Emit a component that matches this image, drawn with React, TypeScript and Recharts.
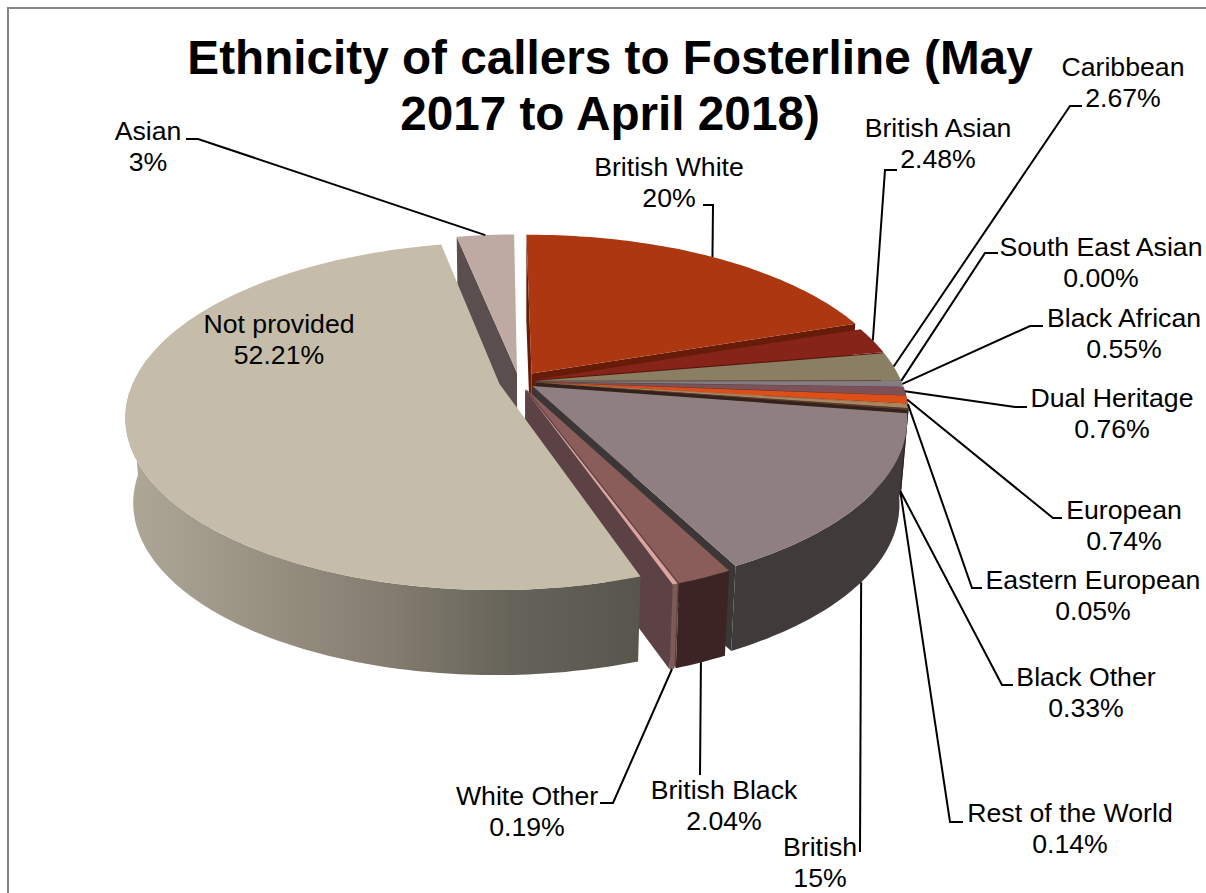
import { Pie, PieChart } from "recharts";

const names = [
  "Asian", "British White", "British Asian", "Caribbean", "South East Asian", "Black African",
  "Dual Heritage", "European", "Eastern European", "Black Other", "Rest of the World",
  "British", "British Black", "White Other", "Not provided",
];
const values = [3, 20, 2.48, 2.67, 0, 0.55, 0.76, 0.74, 0.05, 0.33, 0.14, 15, 2.04, 0.19, 52.21];
const slices = names.map((name, i) => ({ name, value: values[i] }));

const FONT = '"Liberation Sans", Arial, sans-serif';
const CX = 519;
const CY = 381.5;
const RX = 366; // plane radius in px, Pie outerRadius
const RY = 167;
const PERSPECTIVE = 0.185;
const DEPTH = 85;
const TWIST = 0.6; // pie rotation in degrees

// top colour, outer wall, cut wall, explosion as a fraction of the radius
const looks: Record<string, { top: string; wall: string; cut: string; explode: number }> = {
  "Asian": { top: "#bfaaa3", wall: "#6f625e", cut: "#5a4e4e", explode: 0.052 },
  "British White": { top: "#ad3710", wall: "#6a2108", cut: "#661c08", explode: 0.06 },
  "British Asian": { top: "#87241a", wall: "#4e150e", cut: "#5a160e", explode: 0.045 },
  "Caribbean": { top: "#8a7f62", wall: "#50492f", cut: "#4e4632", explode: 0.045 },
  "South East Asian": { top: "#6b6a6a", wall: "#3e3e3e", cut: "#3e3e3e", explode: 0.045 },
  "Black African": { top: "#857b85", wall: "#4b454b", cut: "#4b454b", explode: 0.045 },
  "Dual Heritage": { top: "#7e5058", wall: "#482e32", cut: "#482e32", explode: 0.045 },
  "European": { top: "#de4e17", wall: "#7e2c0d", cut: "#7e2c0d", explode: 0.045 },
  "Eastern European": { top: "#c8a080", wall: "#6e5846", cut: "#6e5846", explode: 0.045 },
  "Black Other": { top: "#a98560", wall: "#5f4a36", cut: "#5f4a36", explode: 0.045 },
  "Rest of the World": { top: "#5b3a30", wall: "#35221c", cut: "#35221c", explode: 0.045 },
  "British": { top: "#8f7f80", wall: "#403a3a", cut: "#3d3636", explode: 0.045 },
  "British Black": { top: "#8a5c5a", wall: "#3c2424", cut: "#5d4245", explode: 0.05 },
  "White Other": { top: "#dca5a0", wall: "#7c5a58", cut: "#5d4245", explode: 0.05 },
  "Not provided": { top: "#c5bcaa", wall: "url(#notProvidedWall)", cut: "#5c5a4e", explode: 0.055 },
};

// label centre, elbow, tail end and how far down the wall the leader lands
const callouts: Record<string, { x: number; y: number; elbow?: [number, number]; tail?: number; z?: number }> = {
  "Asian": { x: 148, y: 131, elbow: [198, 139], tail: 186 },
  "British White": { x: 669, y: 167, elbow: [713, 205], tail: 703 },
  "British Asian": { x: 938, y: 128, elbow: [885, 170], tail: 897 },
  "Caribbean": { x: 1123, y: 67, elbow: [1070, 106], tail: 1082 },
  "South East Asian": { x: 1101, y: 247, elbow: [985, 253], tail: 998 },
  "Black African": { x: 1124, y: 318, elbow: [1030, 326], tail: 1043 },
  "Dual Heritage": { x: 1112, y: 398, elbow: [1015, 407], tail: 1027 },
  "European": { x: 1124, y: 510, elbow: [1053, 518], tail: 1062 },
  "Eastern European": { x: 1093, y: 580, elbow: [972, 588], tail: 982 },
  "Black Other": { x: 1086, y: 677, elbow: [1002, 685], tail: 1013, z: 1 },
  "Rest of the World": { x: 1070, y: 813, elbow: [950, 822], tail: 963, z: 1 },
  "British": { x: 820, y: 847, elbow: [860, 852], z: 1 },
  "British Black": { x: 724, y: 790, elbow: [700, 775], z: 1 },
  "White Other": { x: 527, y: 796, elbow: [613, 803], tail: 600, z: 1 },
  "Not provided": { x: 279, y: 324 },
};

const rad = (deg: number) => (deg * Math.PI) / 180;

// circle in the plane -> screen; z runs from 0 (top face) to 1 (bottom face)
function project(X: number, Y: number, z = 0): [number, number] {
  const s = 1 / (1 + PERSPECTIVE * Y);
  const x = CX + RX * X * s * (1 - 0.02 * z);
  const y = CY - RY * Y * s + z * DEPTH;
  return [x, y];
}

function rimPoint(angle: number, explode: number, mid: number, z = 0) {
  const ox = explode * Math.cos(rad(mid));
  const oy = explode * Math.sin(rad(mid));
  return project(ox + Math.cos(rad(angle)), oy + Math.sin(rad(angle)), z);
}

function apexPoint(explode: number, mid: number, z = 0) {
  return project(explode * Math.cos(rad(mid)), explode * Math.sin(rad(mid)), z);
}

const toPath = (pts: [number, number][]) =>
  "M" + pts.map((p) => `${p[0].toFixed(1)},${p[1].toFixed(1)}`).join("L") + "Z";

function arcAngles(from: number, to: number) {
  const steps = Math.max(2, Math.ceil(Math.abs(from - to)));
  return Array.from({ length: steps + 1 }, (_, i) => from + ((to - from) * i) / steps);
}

function TopFace(props: any) {
  const { startAngle, endAngle, name } = props;
  if (startAngle === endAngle) return null;
  const look = looks[name];
  const mid = (startAngle + endAngle) / 2;
  const rim = arcAngles(startAngle, endAngle).map((a) => rimPoint(a, look.explode, mid));
  return <path d={toPath([apexPoint(look.explode, mid), ...rim])} fill={look.top} />;
}

function Walls(props: any) {
  const { startAngle, endAngle, name } = props;
  if (startAngle === endAngle) return null;
  const look = looks[name];
  const e = look.explode;
  const mid = (startAngle + endAngle) / 2;

  const cutWall = (angle: number) => {
    const quad: [number, number][] = [
      apexPoint(e, mid),
      rimPoint(angle, e, mid),
      rimPoint(angle, e, mid, 1),
      apexPoint(e, mid, 1),
    ];
    const a = quad[1][0] - quad[0][0];
    const b = quad[1][1] - quad[0][1];
    const c = quad[2][0] - quad[1][0];
    const d = quad[2][1] - quad[1][1];
    return { quad, area: a * d - b * c };
  };
  const first = cutWall(startAngle);
  const last = cutWall(endAngle);

  // the curved wall only shows on the near half of the pie
  const from = Math.min(startAngle, -2);
  const to = Math.max(endAngle, -178);
  const near = from > to;
  const top = near ? arcAngles(from, to).map((a) => rimPoint(a, e, mid)) : [];
  const bottom = near ? arcAngles(to, from).map((a) => rimPoint(a, e, mid, 1)) : [];

  return (
    <g>
      {first.area < 0 && <path d={toPath(first.quad)} fill={look.cut} />}
      {last.area > 0 && <path d={toPath(last.quad)} fill={look.cut} />}
      {near && <path d={toPath([...top, ...bottom])} fill={look.wall} />}
    </g>
  );
}

function Callout(props: any) {
  const { name, value, startAngle, endAngle } = props;
  const info = callouts[name];
  const look = looks[name];
  const mid = (startAngle + endAngle) / 2;
  const text = value > 0 && Number.isInteger(value) ? `${value}%` : `${value.toFixed(2)}%`;
  let leader = null;
  if (info.elbow) {
    const end = rimPoint(mid, look.explode, mid, info.z ?? 0);
    const pts = [end, info.elbow];
    if (info.tail) pts.push([info.tail, info.elbow[1]]);
    leader = (
      <polyline
        points={pts.map((p) => p.join(",")).join(" ")}
        fill="none"
        stroke="#000"
        strokeWidth={2}
      />
    );
  }
  return (
    <g>
      {leader}
      <text x={info.x} y={info.y + 9} textAnchor="middle" fontFamily={FONT} fontSize={26.67} fill="#000">
        {name}
      </text>
      <text x={info.x} y={info.y + 40} textAnchor="middle" fontFamily={FONT} fontSize={26.67} fill="#000">
        {text}
      </text>
    </g>
  );
}

const asianSweep = (values[0] / values.reduce((a, b) => a + b, 0)) * 360;

export default function App() {
  const pieProps = {
    data: slices,
    dataKey: "value",
    nameKey: "name",
    cx: CX,
    cy: CY,
    outerRadius: RX,
    startAngle: 90 + asianSweep + TWIST,
    endAngle: 90 + asianSweep + TWIST - 360,
    stroke: "none",
    isAnimationActive: false,
  };
  return (
    <div style={{ position: "absolute", left: 0, top: 0, width: 1206, height: 893, background: "#fff", overflow: "hidden" }}>
      <div
        style={{
          position: "absolute",
          left: 7,
          top: 7,
          width: 1200,
          height: 900,
          borderLeft: "2px solid #868686",
          borderTop: "2px solid #868686",
        }}
      />
      <PieChart width={1206} height={893} style={{ position: "absolute", left: 0, top: 0 }}>
        <defs>
          <linearGradient id="notProvidedWall" x1="0" y1="0" x2="1" y2="0">
            <stop offset="0%" stopColor="#afa899" />
            <stop offset="50%" stopColor="#857e70" />
            <stop offset="75%" stopColor="#66635a" />
            <stop offset="100%" stopColor="#58564c" />
          </linearGradient>
        </defs>
        <Pie {...pieProps} shape={Walls} label={false} labelLine={false} />
        <Pie {...pieProps} shape={TopFace} label={Callout} labelLine={false} />
      </PieChart>
      <div
        style={{
          position: "absolute",
          left: 100,
          top: 30,
          width: 1020,
          textAlign: "center",
          fontFamily: FONT,
          fontWeight: 700,
          fontSize: 47.7,
          lineHeight: "56px",
          color: "#000",
        }}
      >
        Ethnicity of callers to Fosterline (May
        <br />
        2017 to April 2018)
      </div>
    </div>
  );
}
